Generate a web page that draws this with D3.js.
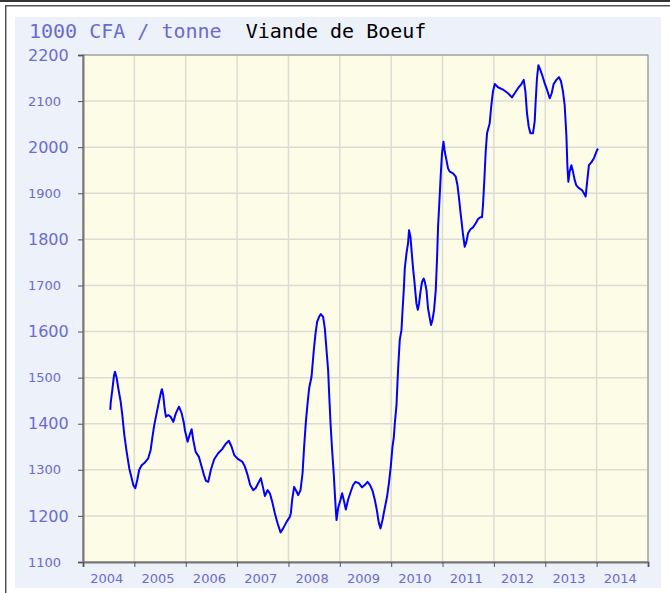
<!DOCTYPE html>
<html>
<head>
<meta charset='utf-8' />
<title>Viande de Boeuf</title>
<script src="https://d3js.org/d3.v7.min.js"></script>
<style>
body { margin: 0; padding: 0; background: #fff; }
#chart text { font-family: "DejaVu Sans", Verdana, sans-serif; }
#chart .title { font-family: "DejaVu Sans Mono", monospace; font-size: 20px; white-space: pre; }
</style>
</head>
<body>
<div id='chart'></div>
<script>

// time axis in decimal years, prices in 1000 CFA / tonne
var years = [
  2004.531, 2004.539, 2004.570, 2004.603, 2004.623, 2004.656, 2004.687, 2004.733, 2004.765, 2004.804,
  2004.850, 2004.901, 2004.947, 2004.979, 2005.018, 2005.056, 2005.095, 2005.142, 2005.206, 2005.270,
  2005.317, 2005.348, 2005.387, 2005.434, 2005.479, 2005.518, 2005.537, 2005.562, 2005.589, 2005.615,
  2005.660, 2005.706, 2005.757, 2005.809, 2005.868, 2005.920, 2005.965, 2005.984, 2006.037, 2006.076,
  2006.115, 2006.146, 2006.193, 2006.257, 2006.309, 2006.354, 2006.393, 2006.438, 2006.490, 2006.554,
  2006.632, 2006.710, 2006.776, 2006.840, 2006.893, 2006.944, 2007.021, 2007.099, 2007.152, 2007.204,
  2007.255, 2007.313, 2007.360, 2007.411, 2007.463, 2007.502, 2007.541, 2007.593, 2007.638, 2007.683,
  2007.735, 2007.788, 2007.846, 2007.897, 2007.963, 2008.027, 2008.047, 2008.072, 2008.111, 2008.158,
  2008.189, 2008.235, 2008.274, 2008.305, 2008.339, 2008.372, 2008.403, 2008.449, 2008.494, 2008.527,
  2008.558, 2008.597, 2008.630, 2008.675, 2008.708, 2008.741, 2008.772, 2008.792, 2008.819, 2008.850,
  2008.883, 2008.903, 2008.922, 2008.936, 2008.967, 2009.014, 2009.045, 2009.084, 2009.117, 2009.161,
  2009.214, 2009.259, 2009.305, 2009.370, 2009.434, 2009.486, 2009.539, 2009.589, 2009.636, 2009.681,
  2009.720, 2009.759, 2009.792, 2009.831, 2009.875, 2009.920, 2009.959, 2009.992, 2010.025, 2010.051,
  2010.070, 2010.103, 2010.134, 2010.167, 2010.200, 2010.220, 2010.245, 2010.265, 2010.298, 2010.329,
  2010.348, 2010.375, 2010.401, 2010.426, 2010.453, 2010.473, 2010.492, 2010.518, 2010.543, 2010.570,
  2010.601, 2010.634, 2010.660, 2010.687, 2010.718, 2010.751, 2010.776, 2010.804, 2010.835, 2010.868,
  2010.893, 2010.913, 2010.940, 2010.965, 2010.990, 2011.018, 2011.043, 2011.076, 2011.107, 2011.140,
  2011.204, 2011.257, 2011.290, 2011.321, 2011.348, 2011.374, 2011.399, 2011.432, 2011.465, 2011.496,
  2011.543, 2011.593, 2011.646, 2011.691, 2011.737, 2011.768, 2011.788, 2011.815, 2011.840, 2011.866,
  2011.918, 2011.951, 2011.982, 2012.016, 2012.080, 2012.177, 2012.274, 2012.352, 2012.405, 2012.469,
  2012.535, 2012.580, 2012.613, 2012.644, 2012.677, 2012.710, 2012.761, 2012.794, 2012.813, 2012.838,
  2012.866, 2012.905, 2012.944, 2012.988, 2013.033, 2013.086, 2013.125, 2013.163, 2013.216, 2013.267,
  2013.306, 2013.344, 2013.377, 2013.411, 2013.430, 2013.449, 2013.475, 2013.508, 2013.539, 2013.572,
  2013.605, 2013.656, 2013.714, 2013.753, 2013.786, 2013.819, 2013.850, 2013.897, 2013.947, 2013.994,
  2014.025
];
var prices = [
  1430, 1445, 1473, 1504, 1513, 1499, 1477, 1448, 1419, 1376,
  1339, 1303, 1282, 1267, 1260, 1278, 1300, 1310, 1316, 1325,
  1343, 1368, 1397, 1423, 1448, 1468, 1475, 1462, 1433, 1415,
  1419, 1415, 1404, 1423, 1437, 1423, 1401, 1386, 1361, 1376,
  1388, 1365, 1339, 1328, 1307, 1289, 1276, 1274, 1300, 1323,
  1336, 1345, 1356, 1363, 1350, 1332, 1323, 1318, 1307, 1289,
  1267, 1256, 1260, 1271, 1282, 1263, 1243, 1256, 1249, 1231,
  1206, 1184, 1164, 1173, 1187, 1198, 1206, 1235, 1263, 1253,
  1245, 1256, 1292, 1350, 1404, 1444, 1477, 1502, 1560, 1596,
  1621, 1632, 1638, 1632, 1607, 1560, 1517, 1466, 1401, 1343,
  1289, 1249, 1213, 1191, 1217, 1235, 1249, 1231, 1214, 1235,
  1253, 1267, 1274, 1271, 1262, 1267, 1274, 1267, 1255, 1235,
  1213, 1185, 1173, 1191, 1217, 1242, 1274, 1307, 1350, 1370,
  1400, 1440, 1517, 1582, 1603, 1643, 1690, 1737, 1770, 1792,
  1820, 1806, 1770, 1737, 1708, 1683, 1661, 1647, 1661, 1686,
  1708, 1715, 1705, 1690, 1650, 1629, 1614, 1625, 1647, 1690,
  1759, 1828, 1885, 1940, 1987, 2012, 1990, 1972, 1954, 1947,
  1943, 1936, 1918, 1889, 1860, 1835, 1810, 1784, 1795, 1813,
  1822, 1826, 1835, 1844, 1848, 1848, 1875, 1932, 1990, 2030,
  2052, 2092, 2121, 2137, 2130, 2125, 2117, 2108, 2117, 2128,
  2137, 2146, 2121, 2074, 2045, 2030, 2030, 2056, 2099, 2149,
  2178, 2167, 2155, 2139, 2125, 2106, 2117, 2137, 2146, 2152,
  2143, 2121, 2092, 2026, 1961, 1925, 1947, 1961, 1947, 1929,
  1917, 1911, 1907, 1900, 1893, 1929, 1961, 1967, 1976, 1990,
  1997
];
var yTicks = [1100, 1200, 1300, 1400, 1500, 1600, 1700, 1800, 1900, 2000, 2100, 2200];
var yearLabels = ["2004", "2005", "2006", "2007", "2008", "2009", "2010", "2011", "2012", "2013", "2014"];

var W = 670, H = 593;
var margin = {top: 55, right: 22, bottom: 31, left: 83};
var width = W - margin.left - margin.right,
    height = H - margin.top - margin.bottom;

var svg = d3.select("#chart")
  .append("svg")
    .attr("width", W)
    .attr("height", H);

// frame + panel
svg.append("rect").attr("x", 0).attr("y", 0).attr("width", W).attr("height", 2).attr("fill", "#333");
svg.append("rect").attr("x", 5).attr("y", 5).attr("width", W - 5).attr("height", 1.5).attr("fill", "#555");
svg.append("rect").attr("x", 5).attr("y", 5).attr("width", 1.5).attr("height", H - 5).attr("fill", "#555");
svg.append("rect")
  .attr("x", 15).attr("y", 17)
  .attr("width", 646).attr("height", 571)
  .attr("fill", "#edf1fa");

// title
var title = svg.append("text")
  .attr("class", "title")
  .attr("x", 29)
  .attr("y", 38);
title.append("tspan").attr("fill", "#6b6bd0").text("1000 CFA / tonne");
title.append("tspan").attr("fill", "#000").text("  Viande de Boeuf");

var g = svg.append("g")
  .attr("transform", "translate(" + margin.left + "," + margin.top + ")");

var x = d3.scaleLinear()
  .domain([2004, 2015])
  .range([0, width]);

var y = d3.scaleLinear()
  .domain([1100, 2200])
  .range([height, 0]);

g.append("rect")
  .attr("width", width)
  .attr("height", height)
  .attr("fill", "#fdfde7");

var yearStarts = yearLabels.map(function(d) { return +d; }).concat([2015]);

// grid
g.selectAll(".hgrid")
  .data(yTicks)
  .enter()
  .append("line")
    .attr("x1", 0).attr("x2", width)
    .attr("y1", function(d) { return y(d); })
    .attr("y2", function(d) { return y(d); })
    .attr("stroke", "#dcdcd6")
    .attr("stroke-width", 1.5);

g.selectAll(".vgrid")
  .data(yearStarts)
  .enter()
  .append("line")
    .attr("y1", 0).attr("y2", height)
    .attr("x1", function(d) { return x(d); })
    .attr("x2", function(d) { return x(d); })
    .attr("stroke", "#dcdcd6")
    .attr("stroke-width", 1.5);

// frame of the plot
g.append("rect")
  .attr("width", width)
  .attr("height", height)
  .attr("fill", "none")
  .attr("stroke", "#8a8a8a")
  .attr("stroke-width", 1);

// axes
var yAxis = g.append("g")
  .call(d3.axisLeft(y).tickValues(yTicks).tickSize(5).tickFormat(""));
yAxis.select(".domain").attr("stroke", "#777").attr("stroke-width", 2);
yAxis.selectAll(".tick line").attr("stroke", "#555");

var xAxis = g.append("g")
  .attr("transform", "translate(0," + height + ")")
  .call(d3.axisBottom(x).tickValues(yearStarts).tickSize(5).tickFormat(""));
xAxis.select(".domain").attr("stroke", "#777").attr("stroke-width", 2);
xAxis.selectAll(".tick line").attr("stroke", "#555");

// y labels, alternating sizes as in the original
g.selectAll(".ylab")
  .data(yTicks)
  .enter()
  .append("text")
    .attr("x", 28 - margin.left)
    .attr("y", function(d) { return y(d); })
    .attr("dy", "0.36em")
    .attr("fill", "#6b6bd0")
    .style("font-size", function(d) { return (d / 100) % 2 === 0 ? "16px" : "13px"; })
    .text(function(d) { return d; });

// x labels between year lines
g.selectAll(".xlab")
  .data(yearLabels)
  .enter()
  .append("text")
    .attr("x", function(d) { return x(+d + 0.5) - 2; })
    .attr("y", height + 21)
    .attr("text-anchor", "middle")
    .attr("fill", "#6b6bd0")
    .style("font-size", "13px")
    .text(function(d) { return d; });

// price line
var line = d3.line()
  .x(function(d, i) { return x(years[i]); })
  .y(function(d) { return y(d); });

g.append("path")
  .datum(prices)
  .attr("fill", "none")
  .attr("stroke", "#0000ff")
  .attr("stroke-width", 2)
  .attr("stroke-linejoin", "round")
  .attr("d", line);

</script>
</body>
</html>
